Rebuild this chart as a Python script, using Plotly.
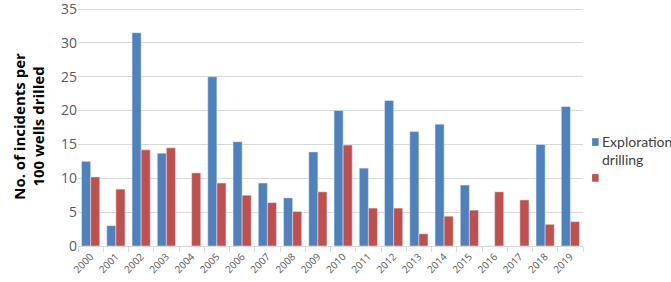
import plotly.graph_objects as go

years = [str(y) for y in range(2000, 2020)]
exploration = [12.5, 3.0, 31.5, 13.7, 0, 25.0, 15.4, 9.3, 7.1, 13.9,
               20.0, 11.5, 21.5, 16.9, 18.0, 9.0, 0, 0, 15.0, 20.6]
second = [10.2, 8.4, 14.2, 14.5, 10.8, 9.3, 7.5, 6.4, 5.1, 8.0,
          14.9, 5.6, 5.6, 1.8, 4.4, 5.3, 8.0, 6.8, 3.2, 3.6]
series_names = ["Exploration<br>drilling", ""]
colors = ["#4F81BD", "#C0504D"]

fig = go.Figure()
fig.add_trace(go.Bar(x=years, y=exploration, name="Exploration drilling", marker_color=colors[0]))
fig.add_trace(go.Bar(x=years, y=second, name="", marker_color=colors[1]))

fig.update_layout(
    width=671, height=282,
    margin=dict(l=78, r=88, t=7, b=36, autoexpand=False),
    paper_bgcolor="white", plot_bgcolor="white",
    barmode="group", bargap=0.28, bargroupgap=0,
    font=dict(family="Open Sans, Liberation Sans, sans-serif", color="#595959"),
    showlegend=False,
)

# legend imitation (swatch + label) at the right of the plot
legend_y = [0.435, 0.285]
for i, (nm, col) in enumerate(zip(series_names, colors)):
    fig.add_shape(type="rect", xref="paper", yref="paper",
                  x0=1.018, x1=1.031, y0=legend_y[i] - 0.016, y1=legend_y[i] + 0.016,
                  fillcolor=col, line_width=0)
    if nm:
        fig.add_annotation(xref="paper", yref="paper", x=1.033, y=legend_y[i] + 0.045,
                           xanchor="left", yanchor="top", text=nm, showarrow=False,
                           align="left", font=dict(size=14, color="#404040",
                           family="Liberation Sans Narrow, Lato, sans-serif"))

fig.update_yaxes(
    range=[0, 35.3], tickvals=[0, 5, 10, 15, 20, 25, 30, 35], showgrid=True,
    gridcolor="#D9D9D9", gridwidth=1, ticklabeloverflow="allow",
    tickfont=dict(size=14, color="#595959"), zeroline=False, showline=False,
    ticks="", automargin=False,
    title=dict(text="<b>No. of incidents per<br>100 wells drilled</b>",
               font=dict(size=15, color="#000000"), standoff=12),
)
fig.update_xaxes(
    type="category", tickangle=-45, tickfont=dict(size=10, color="#595959"),
    showline=True, linecolor="#D9D9D9", ticks="outside", tickson="boundaries",
    tickcolor="#D9D9D9", ticklen=5, automargin=False, showgrid=False,
    ticklabeloverflow="allow",
)

fig.write_html("out.html")
